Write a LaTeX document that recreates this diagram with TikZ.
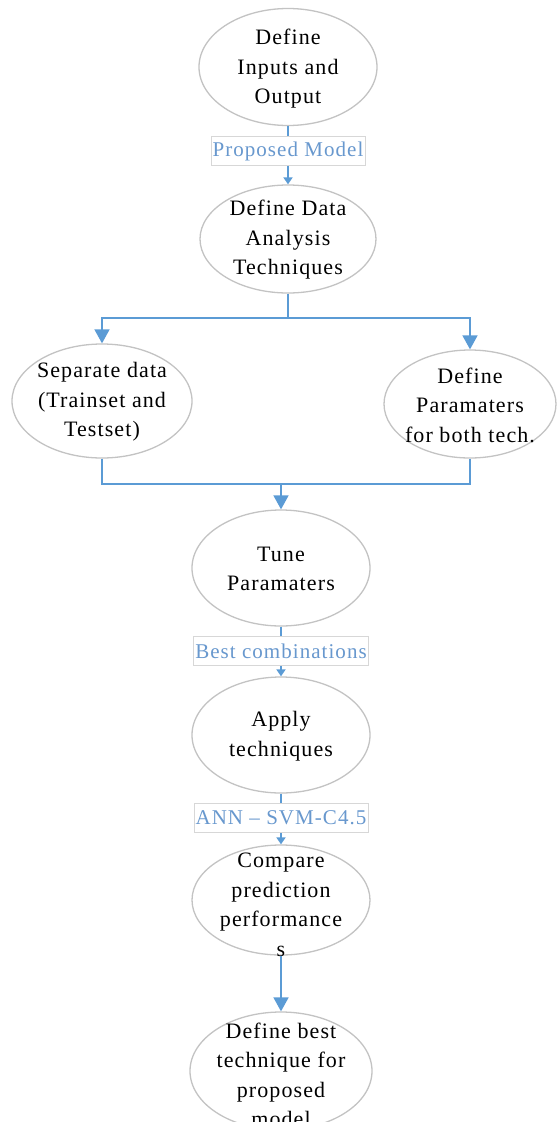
\documentclass[tikz,border=0pt]{standalone}
\usepackage{fontspec}
\setmainfont[LetterSpace=5]{Liberation Serif}
\usetikzlibrary{shapes.geometric,arrows.meta}
\definecolor{connc}{RGB}{91,155,213}
\definecolor{labtext}{RGB}{104,152,206}
\definecolor{ellborder}{RGB}{195,195,195}
\definecolor{labborder}{RGB}{215,215,215}
\begin{document}
\begin{tikzpicture}[x=1pt,y=-1pt,
  ell/.style={ellipse, draw=ellborder, line width=1.3pt, fill=white, inner sep=0pt},
  txt/.style={align=center, font=\fontsize{22}{29.5}\selectfont, inner sep=0pt},
  lab/.style={draw=labborder, line width=0.8pt, fill=white, text=labtext, font=\fontsize{21}{26}\selectfont, inner xsep=1.5pt, inner ysep=0pt, minimum height=29pt},
  cline/.style={draw=connc, line width=1.8pt},
  sarr/.style={cline, -{Triangle[length=7pt,width=9pt]}},
  barr/.style={cline, -{Triangle[length=14pt,width=15pt]}}
]
\useasboundingbox (0,0) rectangle (557,1122);

% ellipses
\node[ell, minimum width=178pt, minimum height=117pt] (n1) at (288,67) {};
\node[ell, minimum width=176pt, minimum height=108pt] (n2) at (288,239) {};
\node[ell, minimum width=180pt, minimum height=114pt] (n3) at (102,401) {};
\node[ell, minimum width=172pt, minimum height=108pt] (n4) at (470,404) {};
\node[ell, minimum width=178pt, minimum height=116pt] (n5) at (281,568) {};
\node[ell, minimum width=178pt, minimum height=116pt] (n6) at (281,735) {};
\node[ell, minimum width=178pt, minimum height=110pt] (n7) at (281,900) {};
\node[ell, minimum width=182pt, minimum height=118pt] (n8) at (281,1071) {};

% texts
\node[txt] (t1) at (288,69) {Define\\Inputs and\\Output};
\node[txt] (t2) at (288,240) {Define Data\\Analysis\\Techniques};
\node[txt] (t3) at (102,402) {Separate data\\(Trainset and\\Testset)};
\node[txt] (t4) at (470,405) {Define\\Paramaters\\for both tech.};
\node[txt] (t5) at (281,569) {Tune\\Paramaters};
\node[txt] (t6) at (281,736) {Apply\\techniques};
\node[txt] (t7) at (281,905) {Compare\\prediction\\performance\\s};
\node[txt] (t8) at (281,1075) {Define best\\technique for\\proposed\\model};

% labels
\node[lab] (l1) at (288,151) {Proposed Model};
\node[lab] (l2) at (281,651) {Best combinations};
\node[lab] (l3) at (281,818) {ANN -- SVM-C4.5};

% connectors
\draw[cline] (n1.south) -- (l1.north);
\draw[sarr] (l1.south) -- (n2.north);

\coordinate (b0) at (288,318);
\draw[cline] (n2.south) -- (b0);
\draw[barr] (b0) -| (n3.north);
\draw[barr] (b0) -| (n4.north);

\coordinate (m0) at (281,484);
\draw[cline] (n3.south) |- (m0);
\draw[cline] (n4.south) |- (m0);
\draw[barr] (m0) -- (n5.north);

\draw[cline] (n5.south) -- (l2.north);
\draw[sarr] (l2.south) -- (n6.north);
\draw[cline] (n6.south) -- (l3.north);
\draw[sarr] (l3.south) -- (n7.north);
\draw[barr] (n7.south) -- (n8.north);
\end{tikzpicture}
\end{document}
